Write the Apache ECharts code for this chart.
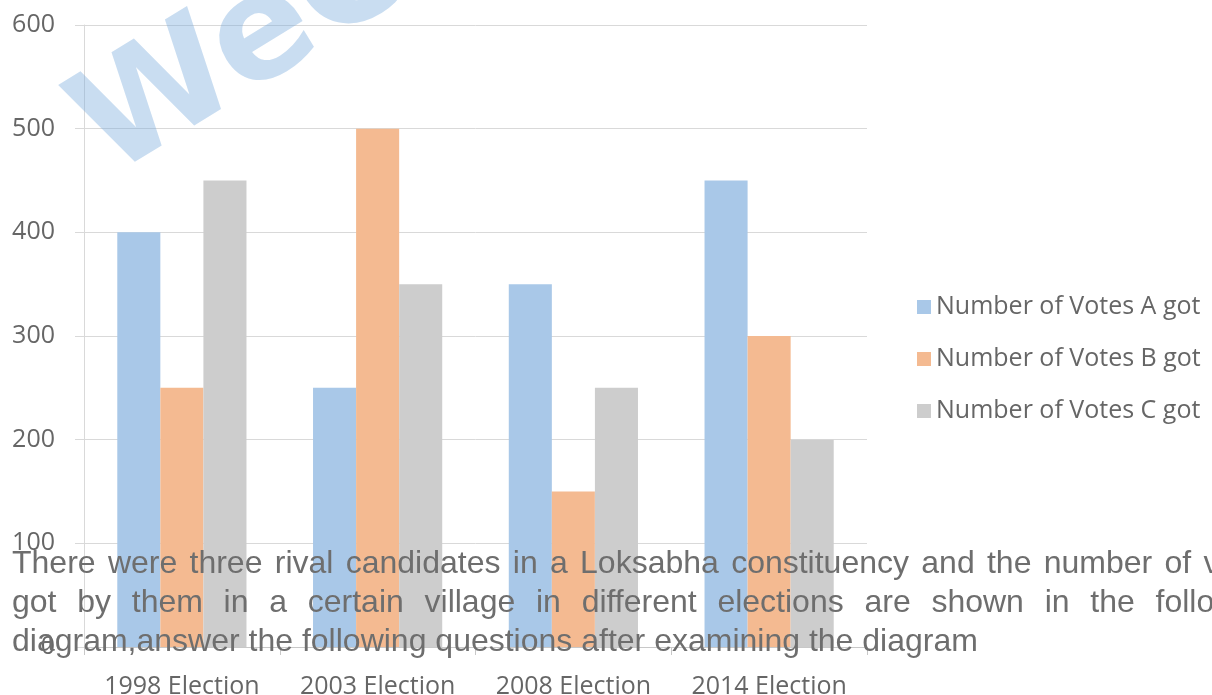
<!DOCTYPE html>
<html>
<head>
<meta charset="utf-8">
<script src="https://cdn.jsdelivr.net/npm/echarts@6/dist/echarts.min.js"></script>
<style>
html,body{margin:0;padding:0;background:#fff;}
#chart{width:1212px;height:695px;}
</style>
</head>
<body>
<div id="chart"></div>
<script>
const categories = ['1998 Election', '2003 Election', '2008 Election', '2014 Election'];
const seriesNames = ['Number of Votes A got', 'Number of Votes B got', 'Number of Votes C got'];
const votesA = [400, 250, 350, 450];
const votesB = [250, 500, 150, 300];
const votesC = [450, 350, 250, 200];
const yTicks = [0, 100, 200, 300, 400, 500, 600];
const paragraphLines = [
  'There were three rival candidates in a Loksabha constituency and the number of votes',
  'got by them in a certain village in different elections are shown in the following',
  'diagram,answer the following questions after examining the diagram'
];
const watermarkText = 'WeC';

const colors = ['#a9c8e8', '#f4ba91', '#cdcdcd'];
const labelFont = '"Open Sans"';
const paraFont = '"Liberation Sans", Arial, sans-serif';
const paraSize = 32;
const paraLeft = 12;
const paraRight = 1280;
const paraBottoms = [580, 619, 658];

function buildParagraph() {
  const cv = document.createElement('canvas');
  const ctx = cv.getContext('2d');
  ctx.font = paraSize + 'px ' + paraFont;
  const els = [];
  paragraphLines.forEach((line, li) => {
    const words = line.split(' ');
    const widths = words.map(w => ctx.measureText(w).width);
    const total = widths.reduce((a, b) => a + b, 0);
    const justify = li < paragraphLines.length - 1;
    const gap = justify ? (paraRight - paraLeft - total) / (words.length - 1) : ctx.measureText(' ').width;
    let x = paraLeft;
    words.forEach((w, i) => {
      els.push({
        type: 'text', x: x, y: paraBottoms[li], z: 100,
        style: { text: w, fontSize: paraSize, fontFamily: paraFont, fill: '#6e6e6e',
                 verticalAlign: 'bottom' }
      });
      x += widths[i] + gap;
    });
  });
  return els;
}

const chart = echarts.init(document.getElementById('chart'), null, { renderer: 'canvas' });
const seriesData = [votesA, votesB, votesC];

const option = {
  backgroundColor: '#ffffff',
  animation: false,
  grid: { left: 84, right: 345, top: 25, bottom: 48, containLabel: false, outerBoundsMode: 'none' },
  legend: {
    orient: 'vertical', left: 912, top: 289,
    itemWidth: 14, itemHeight: 14, itemGap: 26,
    icon: 'rect',
    data: seriesNames,
    textStyle: { fontFamily: labelFont, fontSize: 25, color: '#666666', lineHeight: 26 }
  },
  xAxis: {
    type: 'category', data: categories,
    axisLine: { show: true, lineStyle: { color: '#c8c8c8', width: 1 } },
    axisTick: { show: true, length: 8, lineStyle: { color: '#c8c8c8' } },
    axisLabel: { fontFamily: labelFont, fontSize: 25, color: '#666666', margin: 27, interval: 0, hideOverlap: false }
  },
  yAxis: {
    type: 'value', min: 0, max: 600, interval: 100,
    axisLine: { show: true, lineStyle: { color: '#d9d9d9' } },
    axisTick: { show: true, length: 9, lineStyle: { color: '#d9d9d9' } },
    splitLine: { show: true, lineStyle: { color: '#d9d9d9', width: 1 } },
    axisLabel: { fontFamily: labelFont, fontSize: 25, color: '#666666', margin: 29,
      formatter: v => yTicks.includes(v) ? String(v) : '' }
  },
  series: seriesNames.map((name, i) => ({
    name: name, type: 'bar', data: seriesData[i],
    barGap: '0%', barCategoryGap: '34%',
    itemStyle: { color: colors[i] }, z: 2
  })),
  graphic: [
    {
      type: 'text', x: 128, y: 207, rotation: 0.55, z: 50,
      style: { text: watermarkText, fontSize: 145, fontWeight: 'bold', fontFamily: '"DejaVu Sans", sans-serif',
               fill: 'rgba(120,170,220,0.40)', verticalAlign: 'bottom' }
    }
  ].concat(buildParagraph())
};
chart.setOption(option);
</script>
</body>
</html>
